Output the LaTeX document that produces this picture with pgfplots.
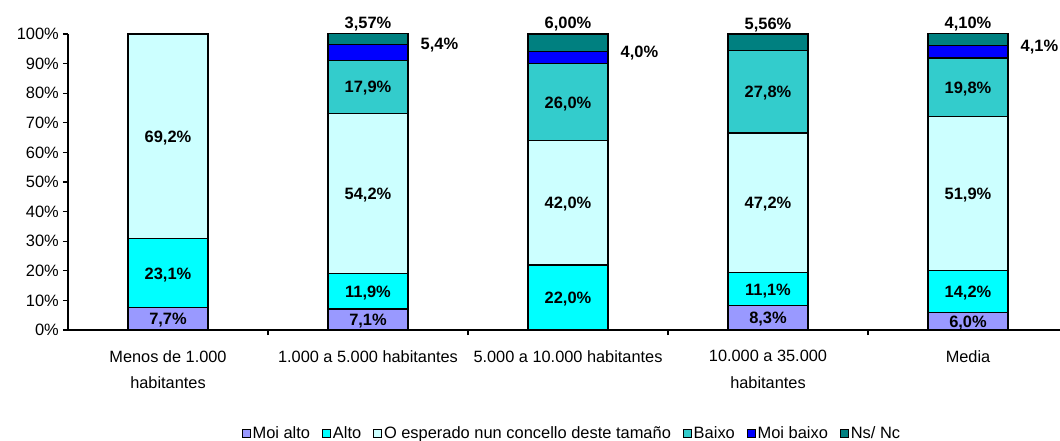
\documentclass[border=0pt]{standalone}
\usepackage{fontspec}
\setmainfont{Liberation Sans}
\setsansfont{Liberation Sans}
\usepackage{pgfplots}
\usepackage{pgfplotstable}
\pgfplotsset{compat=1.18}

\definecolor{cmoialto}{HTML}{9999FF}
\definecolor{calto}{HTML}{00FFFF}
\definecolor{cesp}{HTML}{CCFFFF}
\definecolor{cbaixo}{HTML}{33CCCC}
\definecolor{cmoibaixo}{HTML}{0000FF}
\definecolor{cnsnc}{HTML}{008080}

% values per category, labels as shown on the chart
\pgfplotstableread{
x malto alto esp baixo mbaixo nsnc lmalto lalto lesp lbaixo lmbaixo lnsnc
0 7.7 23.1 69.2 0    0   0    7,7\% 23,1\% 69,2\% {}     {}    {}
1 7.1 11.9 54.2 17.9 5.4 3.57 7,1\% 11,9\% 54,2\% 17,9\% 5,4\% 3,57\%
2 0   22.0 42.0 26.0 4.0 6.00 {}    22,0\% 42,0\% 26,0\% 4,0\% 6,00\%
3 8.3 11.1 47.2 27.8 0   5.56 8,3\% 11,1\% 47,2\% 27,8\% {}    5,56\%
4 6.0 14.2 51.9 19.8 4.1 4.10 6,0\% 14,2\% 51,9\% 19,8\% 4,1\% 4,10\%
}\datatable

\tikzset{lab/.style={font=\bfseries\fontsize{16.5}{19}\selectfont, inner sep=0pt, text=black}}
\pgfplotsset{
  midlab/.style={nodes near coords, point meta=explicit symbolic,
    every node near coord/.style={lab, anchor=base, yshift=-6bp}},
  toplab/.style 2 args={nodes near coords, point meta=explicit symbolic,
    visualization depends on={\thisrow{#1} \as \rawy},
    every node near coord/.style={lab, shift={(axis direction cs:0,\rawy/2)}, #2}},
}

\begin{document}
\begin{tikzpicture}
\useasboundingbox (-68bp,-111bp) rectangle (992bp,330bp);
\begin{axis}[
  scale only axis, width=992bp, height=296bp,
  ybar stacked, bar width=80bp,
  xmin=-0.5, xmax=4.46, ymin=0, ymax=100,
  clip=false,
  axis x line*=bottom, axis y line*=left,
  axis line style={line width=1.3bp, -},
  xtick={0,1,2,3,4},
  xticklabels={Menos de 1.000\\habitantes, 1.000 a 5.000 habitantes, 5.000 a 10.000 habitantes, 10.000 a 35.000\\habitantes, Media},
  xticklabel style={align=center, font=\fontsize{16.4}{27}\selectfont, inner sep=0pt, anchor=north, yshift=-15bp},
  x tick style={draw=none},
  minor xtick={0.5,1.5,2.5,3.5},
  minor x tick style={draw=black, line width=1.3bp},
  ytick={0,10,...,100},
  yticklabels={0\%,10\%,20\%,30\%,40\%,50\%,60\%,70\%,80\%,90\%,100\%},
  yticklabel style={font=\fontsize{16.5}{19}\selectfont, inner sep=0pt, xshift=-4bp},
  y tick style={black, line width=1.3bp},
  tick align=outside, major tick length=5bp, minor tick length=5bp,
  every axis plot/.append style={draw=black, line width=1.3bp},
  legend image code/.code={\draw[#1, draw=black, line width=0.8bp] (0bp,-4bp) rectangle (8bp,4bp);},
  legend columns=-1,
  legend style={draw=none, at={(axis description cs:0.508,-0.348)}, anchor=center,
    font=\fontsize{16.5}{19}\selectfont, inner sep=0pt,
    /tikz/every even column/.append style={column sep=10bp}},
  legend cell align=left,
]
\addplot[fill=cmoialto, midlab] table[x=x, y=malto, meta=lmalto]{\datatable};
\addplot[fill=calto, midlab] table[x=x, y=alto, meta=lalto]{\datatable};
\addplot[fill=cesp, midlab] table[x=x, y=esp, meta=lesp]{\datatable};
\addplot[fill=cbaixo, midlab] table[x=x, y=baixo, meta=lbaixo]{\datatable};
\addplot[fill=cmoibaixo, toplab={mbaixo}{anchor=west, xshift=52bp, yshift=-1bp}]
  table[x=x, y=mbaixo, meta=lmbaixo]{\datatable};
\addplot[fill=cnsnc, toplab={nsnc}{anchor=base, yshift=5bp}]
  table[x=x, y=nsnc, meta=lnsnc]{\datatable};
\legend{Moi alto, Alto, O esperado nun concello deste tamaño, Baixo, Moi baixo, Ns/ Nc}
\end{axis}
\end{tikzpicture}
\end{document}
